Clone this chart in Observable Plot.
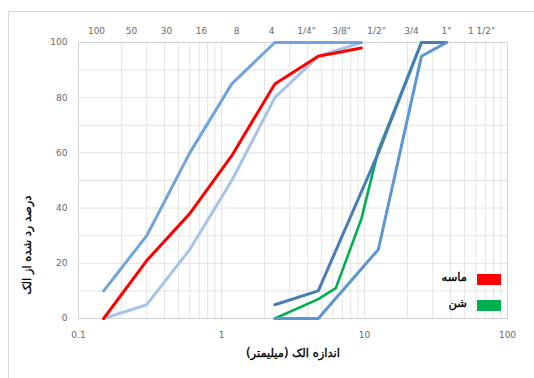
<!DOCTYPE html>
<html>
<head>
<meta charset="utf-8">
<script src="https://cdn.jsdelivr.net/npm/d3@7"></script>
<script src="https://cdn.jsdelivr.net/npm/@observablehq/plot@0.6"></script>
<style>
  body { margin: 0; background: #fff; }
  #chart { position: relative; width: 534px; height: 378px; overflow: hidden; background: #fff; }
  #chart .outline { position: absolute; left: 8px; top: 11px; width: 600px; height: 420px; border: 1px solid #d9d9d9; box-sizing: border-box; }
  #chart svg { position: absolute; left: 0; top: 0; }
  .legend-row { position: absolute; left: 0; width: 534px; height: 12px; }
  .legend-row .swatch { position: absolute; left: 477px; top: 0; width: 24px; height: 11px; }
  .legend-row .name { position: absolute; right: 67px; top: -4px; font: 11.5px "DejaVu Sans", sans-serif; color: #000; direction: rtl; -webkit-text-stroke: 0.35px #000; }
</style>
</head>
<body>
<div id="chart"><div class="outline"></div></div>
<script>
// Sieve openings (mm) for the fine-aggregate grading
const sandSieves = [0.15, 0.3, 0.6, 1.18, 2.36, 4.75, 9.5];
const sandUpper = [10, 30, 60, 85, 100, 100, 100];
const sandLower = [0, 5, 25, 50, 80, 95, 100];
const sandPassing = [0, 21, 38, 59, 85, 95, 98];

// Coarse-aggregate grading
const gravelLimitSieves = [2.36, 4.75, 12.5, 25, 37.5];
const gravelUpper = [5, 10, 60, 100, 100];
const gravelLower = [0, 0, 25, 95, 100];
const gravelSieves = [2.36, 4.75, 6.3, 9.5, 12.5, 25];
const gravelPassing = [0, 7, 11, 36, 61, 100];

// Axis labels
const sieveLabels = ["100", "50", "30", "16", "8", "4", "1/4\"", "3/8\"", "1/2\"", "3/4", "1\"", "1 1/2\""];
const xTicks = [0.1, 1, 10, 100];
const yTicks = [0, 20, 40, 60, 80, 100];
const yGrid = [0, 10, 20, 30, 40, 50, 60, 70, 80, 90, 100];
const xTitle = "اندازه الک (میلیمتر)";
const yTitle = "درصد رد شده از الک";
const legendNames = ["ماسه", "شن"];
const legendColors = ["#ff0000", "#00b050"];

const pts = (xs, ys) => xs.map((x, i) => ({x, y: ys[i]}));
const xGrid = d3.scaleLog().domain([0.1, 100]).ticks();

const lineStyle = {x: "x", y: "y", strokeWidth: 3, strokeLinejoin: "round", strokeLinecap: "round"};
const titleStyle = {text: d => d, fontSize: 11.5, fontFamily: "DejaVu Sans", fill: "#000", stroke: "#000", strokeWidth: 0.35};

const mainPlot = Plot.plot({
  width: 534,
  height: 378,
  marginTop: 42,
  marginBottom: 60,
  marginLeft: 78,
  marginRight: 27,
  style: {fontFamily: "DejaVu Sans, sans-serif", fontSize: "9px", color: "#6a6a6a", background: "transparent"},
  x: {type: "log", domain: [0.1, 100], ticks: xTicks, tickFormat: d => String(d), tickSize: 0, tickPadding: 13, label: null},
  y: {domain: [0, 100], ticks: yTicks, tickSize: 0, tickPadding: 11, label: null},
  marks: [
    Plot.ruleY(yGrid, {stroke: "#e4e4e4"}),
    Plot.ruleX(xGrid, {stroke: "#e4e4e4"}),
    Plot.frame({stroke: "#d4d4d4"}),
    Plot.line(pts(sandSieves, sandLower), {...lineStyle, stroke: "#a6c4e8"}),
    Plot.line(pts(sandSieves, sandUpper), {...lineStyle, stroke: "#6fa5da"}),
    Plot.line(pts(sandSieves, sandPassing), {...lineStyle, stroke: "#ff0000"}),
    Plot.line(pts(gravelSieves, gravelPassing), {...lineStyle, strokeWidth: 2.6, stroke: "#00b050"}),
    Plot.line(pts(gravelLimitSieves, gravelUpper), {...lineStyle, stroke: "#4a7db5"}),
    Plot.line(pts(gravelLimitSieves, gravelLower), {...lineStyle, stroke: "#5b97d2"}),
    Plot.text([xTitle], {...titleStyle, frameAnchor: "bottom", dy: 38}),
    Plot.text([yTitle], {...titleStyle, frameAnchor: "left", rotate: -90, dx: -51, dy: 15})
  ]
});

// Persian titles read right to left
for (const t of mainPlot.querySelectorAll("text")) {
  if (/[\u0600-\u06FF]/.test(t.textContent)) {
    t.setAttribute("direction", "rtl");
    t.setAttribute("unicode-bidi", "embed");
  }
}

// Sieve number / inch designations along the top
const sieveAxis = Plot.plot({
  width: 534,
  height: 40,
  margin: 0,
  style: {fontFamily: "DejaVu Sans, sans-serif", fontSize: "9px", color: "#6a6a6a", background: "transparent"},
  x: {type: "point", domain: sieveLabels, range: [77.5, 499], axis: null},
  marks: [
    Plot.text(sieveLabels, {x: d => d, text: d => d, frameAnchor: "top", dy: 27, fill: "#6a6a6a"})
  ]
});

const chart = document.getElementById("chart");
chart.appendChild(mainPlot);
chart.appendChild(sieveAxis);

legendNames.forEach((name, i) => {
  const row = document.createElement("div");
  row.className = "legend-row";
  row.style.top = (274 + 26 * i) + "px";
  const sw = document.createElement("div");
  sw.className = "swatch";
  sw.style.background = legendColors[i];
  const label = document.createElement("div");
  label.className = "name";
  label.textContent = name;
  row.appendChild(label);
  row.appendChild(sw);
  chart.appendChild(row);
});
</script>
</body>
</html>
